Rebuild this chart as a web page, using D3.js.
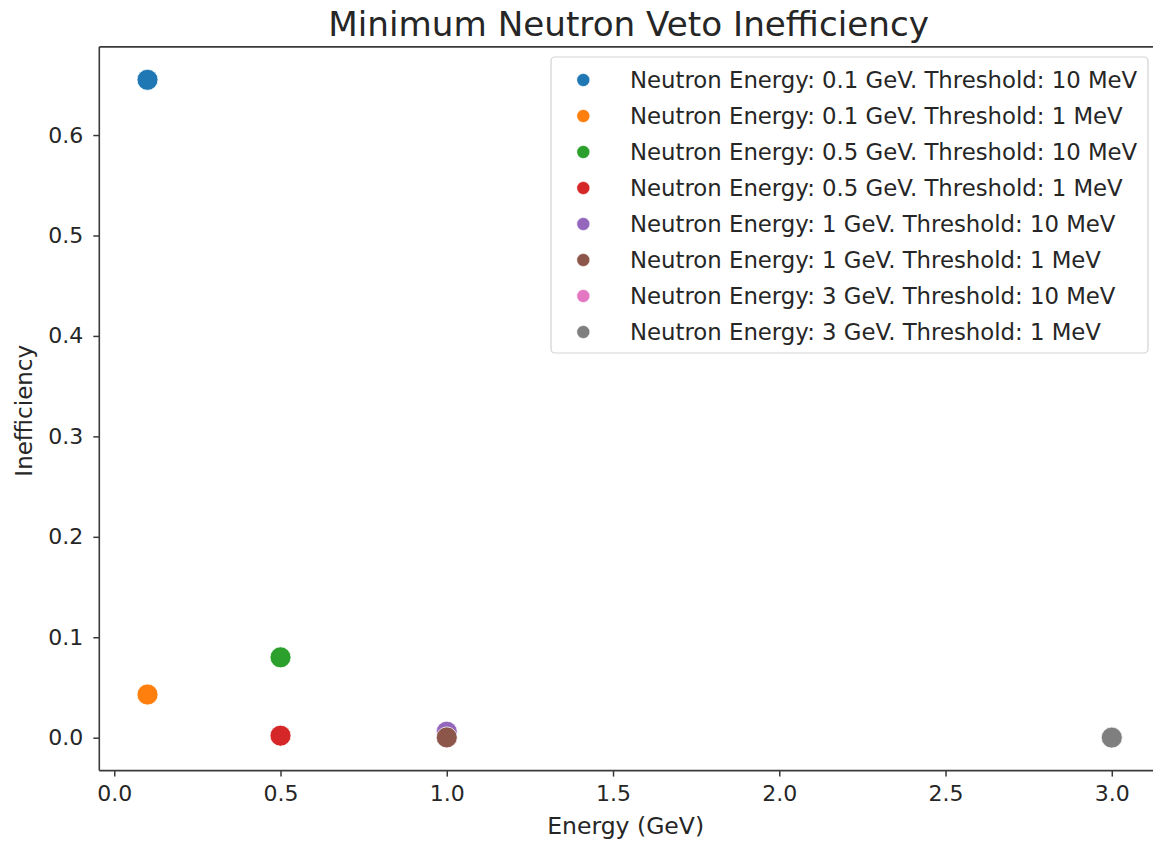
<!DOCTYPE html>
<html>
<head>
<meta charset="utf-8">
<script src="https://cdn.jsdelivr.net/npm/d3@7"></script>
<style>
  html, body { margin: 0; padding: 0; background: #fff; }
  svg { display: block; font-family: "DejaVu Sans", sans-serif; }
</style>
</head>
<body>
<svg id="chart" width="1153" height="846"></svg>
<script>
// Minimum neutron veto inefficiency per neutron energy and energy threshold
const seriesLabels = [
  "Neutron Energy: 0.1 GeV. Threshold: 10 MeV",
  "Neutron Energy: 0.1 GeV. Threshold: 1 MeV",
  "Neutron Energy: 0.5 GeV. Threshold: 10 MeV",
  "Neutron Energy: 0.5 GeV. Threshold: 1 MeV",
  "Neutron Energy: 1 GeV. Threshold: 10 MeV",
  "Neutron Energy: 1 GeV. Threshold: 1 MeV",
  "Neutron Energy: 3 GeV. Threshold: 10 MeV",
  "Neutron Energy: 3 GeV. Threshold: 1 MeV"
];
const energies = [0.1, 0.1, 0.5, 0.5, 1, 1, 3, 3];
const inefficiencies = [0.655, 0.043, 0.080, 0.002, 0.006, 0.0003, 0.0002, 0.0001];
const seriesColors = ["#1f77b4", "#ff7f0e", "#2ca02c", "#d62728", "#9467bd", "#8c564b", "#e377c2", "#7f7f7f"];
const xTicks = [0.0, 0.5, 1.0, 1.5, 2.0, 2.5, 3.0];
const yTicks = [0.0, 0.1, 0.2, 0.3, 0.4, 0.5, 0.6];

const svg = d3.select("#chart");
const plot = { left: 99.3, right: 1160, top: 46.9, bottom: 770.6 };

// Axis limits padded by 5% of the data span on each side
const pad = (lo, hi) => [lo - 0.05 * (hi - lo), hi + 0.05 * (hi - lo)];
const xMin = d3.min(energies), xMax = d3.max(energies);
const yMin = 0, yMax = d3.max(inefficiencies);

const x = d3.scaleLinear().domain(pad(xMin, xMax)).range([plot.left, plot.right]);
const y = d3.scaleLinear().domain(pad(yMin, yMax)).range([plot.bottom, plot.top]);

const tickFont = "22px";
const inkColor = "#262626";
const spineColor = "#3a3a3a";

// Title
svg.append("text")
  .attr("x", (plot.left + plot.right) / 2 - 1)
  .attr("y", 36)
  .attr("text-anchor", "middle")
  .style("font-size", "34.2px")
  .style("fill", inkColor)
  .text("Minimum Neutron Veto Inefficiency");

// Axes
const xAxis = svg.append("g")
  .attr("transform", `translate(0,${plot.bottom})`)
  .call(d3.axisBottom(x).tickValues(xTicks).tickFormat(d3.format(".1f")).tickSize(6).tickPadding(9).tickSizeOuter(0));
const yAxis = svg.append("g")
  .attr("transform", `translate(${plot.left},0)`)
  .call(d3.axisLeft(y).tickValues(yTicks).tickFormat(d3.format(".1f")).tickSize(6).tickPadding(10).tickSizeOuter(0));

[xAxis, yAxis].forEach(g => {
  g.select(".domain").remove();
  g.selectAll(".tick line").attr("stroke", spineColor).attr("stroke-width", 1.5);
  g.selectAll(".tick text").style("font-size", tickFont).style("fill", inkColor).attr("font-family", "DejaVu Sans");
});

// Spines
const spines = svg.append("g").attr("fill", "none").attr("stroke", spineColor).attr("stroke-width", 1.6);
spines.append("line").attr("x1", plot.left).attr("x2", plot.left).attr("y1", plot.top).attr("y2", plot.bottom);
spines.append("line").attr("x1", plot.left).attr("x2", plot.right).attr("y1", plot.bottom).attr("y2", plot.bottom);
spines.append("line").attr("x1", plot.left).attr("x2", plot.right).attr("y1", plot.top).attr("y2", plot.top);
spines.append("line").attr("x1", plot.right).attr("x2", plot.right).attr("y1", plot.top).attr("y2", plot.bottom);

// Axis labels
svg.append("text")
  .attr("x", (plot.left + plot.right) / 2 - 4)
  .attr("y", 834)
  .attr("text-anchor", "middle")
  .style("font-size", "23.5px")
  .style("fill", inkColor)
  .text("Energy (GeV)");
svg.append("text")
  .attr("transform", `translate(32,${(plot.top + plot.bottom) / 2 + 2}) rotate(-90)`)
  .attr("text-anchor", "middle")
  .style("font-size", "23px")
  .style("fill", inkColor)
  .text("Inefficiency");

// Points
const points = seriesLabels.map((label, i) => ({
  label, energy: energies[i], value: inefficiencies[i], color: seriesColors[i]
}));
svg.append("g")
  .selectAll("circle")
  .data(points)
  .join("circle")
  .attr("cx", d => x(d.energy))
  .attr("cy", d => y(d.value))
  .attr("r", 10.5)
  .attr("fill", d => d.color)
  .attr("stroke", "#fff")
  .attr("stroke-width", 0.75);

// Legend
const legend = svg.append("g");
legend.append("rect")
  .attr("x", 551).attr("y", 57)
  .attr("width", 597).attr("height", 296)
  .attr("rx", 4)
  .attr("fill", "#fff").attr("fill-opacity", 0.8)
  .attr("stroke", "#d3d3d3").attr("stroke-width", 1.2);
const rows = legend.selectAll("g.row")
  .data(points)
  .join("g")
  .attr("class", "row")
  .attr("transform", (d, i) => `translate(0,${80 + i * 36})`);
rows.append("circle")
  .attr("cx", 583.3).attr("cy", 0).attr("r", 6.5)
  .attr("fill", d => d.color)
  .attr("stroke", "#fff").attr("stroke-width", 0.5);
rows.append("text")
  .attr("x", 630).attr("y", 7.5)
  .style("font-size", "22.8px")
  .style("fill", inkColor)
  .text(d => d.label);
</script>
</body>
</html>
